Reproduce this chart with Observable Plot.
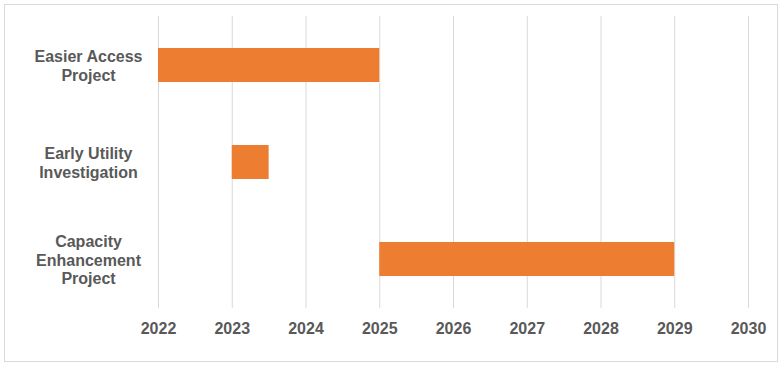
<!DOCTYPE html>
<html>
<head>
<meta charset="utf-8">
<script src="https://cdn.jsdelivr.net/npm/d3@7"></script>
<script src="https://cdn.jsdelivr.net/npm/@observablehq/plot@0.6"></script>
<style>
  html, body { margin: 0; padding: 0; background: #fff; }
  #wrap { position: relative; width: 783px; height: 367px; }
  #frame { position: absolute; left: 4px; top: 4px; width: 772px; height: 356px; border: 1px solid #d9d9d9; box-sizing: content-box; }
  #chart { position: absolute; left: 0; top: 0; }
</style>
</head>
<body>
<div id="wrap"><div id="frame"></div><div id="chart"></div></div>
<script>
const tasks = ["Easier Access Project", "Early Utility Investigation", "Capacity Enhancement Project"];
const taskLabels = ["Easier Access\nProject", "Early Utility\nInvestigation", "Capacity\nEnhancement\nProject"];
const starts = [2022, 2023, 2025];
const ends = [2025, 2023.5, 2029];
const tickYears = [2022, 2023, 2024, 2025, 2026, 2027, 2028, 2029, 2030];

const data = tasks.map((t, i) => ({task: t, start: starts[i], end: ends[i]}));
const labelOf = new Map(tasks.map((t, i) => [t, taskLabels[i]]));

const chart = Plot.plot({
  width: 783,
  height: 367,
  marginLeft: 158,
  marginRight: 35,
  marginTop: 16,
  marginBottom: 59,
  style: {fontFamily: "Arial, 'Liberation Sans', sans-serif", background: "transparent"},
  x: {domain: [2022, 2030], ticks: tickYears},
  y: {domain: tasks, paddingInner: 0.65, paddingOuter: 0.33},
  marks: [
    Plot.gridX(tickYears, {stroke: "#d9d9d9", strokeOpacity: 1, strokeWidth: 1}),
    Plot.barX(data, {y: "task", x1: "start", x2: "end", fill: "#ED7D31"}),
    Plot.axisX({ticks: tickYears, tickFormat: d3.format("d"), tickSize: 0, tickPadding: 14,
      fontSize: 16, fontWeight: "bold", fill: "#595959", label: null}),
    Plot.axisY({tickSize: 0, tickPadding: 70, textAnchor: "middle", tickFormat: d => labelOf.get(d),
      fontSize: 16, fontWeight: "bold", fill: "#595959", lineHeight: 1.18, label: null})
  ]
});
document.getElementById("chart").appendChild(chart);
</script>
</body>
</html>
